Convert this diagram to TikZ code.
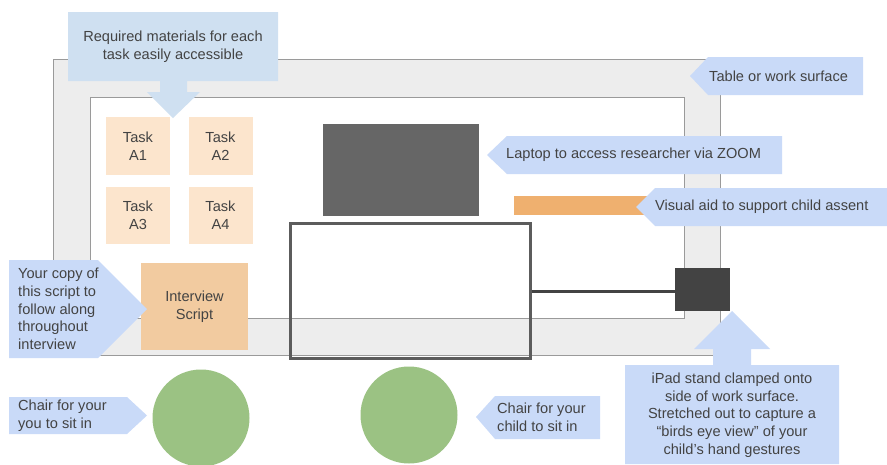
\documentclass[tikz,border=0pt]{standalone}
\usepackage{fontspec}
\setmainfont{Liberation Sans}
\definecolor{tablegray}{HTML}{EDEDED}
\definecolor{edgegray}{HTML}{9A9A9A}
\definecolor{tasklight}{HTML}{FCE5CD}
\definecolor{scriptpeach}{HTML}{F2CBA0}
\definecolor{laptopgray}{HTML}{666666}
\definecolor{ipadgray}{HTML}{434343}
\definecolor{tabletedge}{HTML}{5C5C5C}
\definecolor{aidorange}{HTML}{EFB06F}
\definecolor{chairgreen}{HTML}{9BC283}
\definecolor{calloutblue}{HTML}{C9DAF8}
\definecolor{callouttop}{HTML}{CFE0F1}
\definecolor{txt}{HTML}{434343}
\tikzset{
  lbl/.style={text=txt,font=\fontsize{14.6}{17.7}\selectfont,inner sep=0pt},
  taskbox/.style={fill=tasklight,draw=none,minimum width=64pt,minimum height=58pt,lbl,align=center},
  callshape/.style={fill=calloutblue,draw=none},
}
\begin{document}
\begin{tikzpicture}[x=1pt,y=-1pt]
\useasboundingbox (0,0) rectangle (887,464);
% table
\path[fill=tablegray,draw=edgegray,line width=1pt] (53,59) rectangle (720,355);
\path[fill=white,draw=edgegray,line width=1pt] (90,97) rectangle (684,318);
% tasks
\node[taskbox] (a1) at (138,146) {Task\\A1};
\node[taskbox] (a2) at (220.5,146) {Task\\A2};
\node[taskbox,minimum height=57pt] (a3) at (138,215.5) {Task\\A3};
\node[taskbox,minimum height=57pt] (a4) at (220.5,215.5) {Task\\A4};
% interview script
\node[fill=scriptpeach,minimum width=107pt,minimum height=87pt,lbl,align=center] (script) at (194.5,306.5) {Interview\\Script};
% laptop
\node[fill=laptopgray,minimum width=156pt,minimum height=92pt,inner sep=0pt] (laptop) at (401,170) {};
% visual aid bar
\node[fill=aidorange,minimum width=136pt,minimum height=19pt,inner sep=0pt,anchor=west] (aid) at (514,205.5) {};
% tablet
\node[draw=tabletedge,line width=3pt,minimum width=240pt,minimum height=135pt,inner sep=0pt] (tablet) at (410,290.5) {};
% ipad
\node[fill=ipadgray,minimum width=55pt,minimum height=43pt,inner sep=0pt] (ipad) at (702.5,289.5) {};
\draw[ipadgray,line width=3pt] (tablet.east |- 0,291) -- (ipad.west |- 0,291);
% chairs
\node[circle,fill=chairgreen,minimum size=97pt,inner sep=0pt] (chair1) at (201,418) {};
\node[circle,fill=chairgreen,minimum size=97pt,inner sep=0pt] (chair2) at (409,415) {};
% callout: required materials
\path[fill=callouttop] (68,12) -- (278,12) -- (278,81) -- (187,81) -- (187,92) -- (200,92) -- (173,118) -- (147,92) -- (160,92) -- (160,81) -- (68,81) -- cycle;
\node[lbl,align=center] (reqtext) at (173,47) {Required materials for each\\task easily accessible};
% callout: table
\path[callshape] (690,76) -- (708,57) -- (863,57) -- (863,95) -- (708,95) -- cycle;
\node[lbl,anchor=west] (tabletext) at (709,76) {Table or work surface};
% callout: laptop
\path[callshape] (487,155) -- (507,136) -- (782,136) -- (782,174) -- (507,174) -- cycle;
\node[lbl,anchor=west] (laptoptext) at (506,155) {Laptop to access researcher via ZOOM};
% callout: visual aid
\path[callshape] (636,207) -- (655,188) -- (887,188) -- (887,226) -- (655,226) -- cycle;
\node[lbl,anchor=west] (aidtext) at (655,207) {Visual aid to support child assent};
% callout: your copy
\path[callshape] (9,260) -- (98,260) -- (147,309) -- (98,358) -- (9,358) -- cycle;
\node[lbl,anchor=west,align=left] (copytext) at (18,309) {Your copy of\\this script to\\follow along\\throughout\\interview};
% callout: chair for you
\path[callshape] (9,397) -- (127,397) -- (147,415.5) -- (127,434) -- (9,434) -- cycle;
\node[lbl,anchor=west,align=left] (chair1text) at (18,415.5) {Chair for your\\you to sit in};
% callout: chair for child
\path[callshape] (476,417) -- (495,396) -- (600,396) -- (600,439) -- (495,439) -- cycle;
\node[lbl,anchor=west,align=left] (chair2text) at (497,417) {Chair for your\\child to sit in};
% callout: ipad
\path[callshape] (732,311) -- (770,349) -- (751,349) -- (751,365) -- (839,365) -- (839,464) -- (625,464) -- (625,365) -- (713,365) -- (713,349) -- (694,349) -- cycle;
\node[lbl,align=center] (ipadtext) at (732,415) {iPad stand clamped onto\\side of work surface.\\Stretched out to capture a\\“birds eye view” of your\\child's hand gestures};
\end{tikzpicture}
\end{document}
